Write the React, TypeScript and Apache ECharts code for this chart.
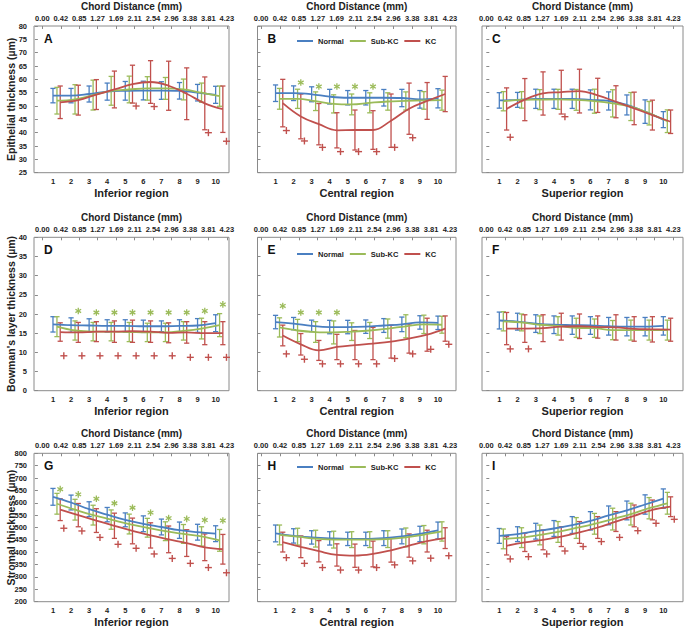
import React, { useEffect, useRef } from "react";
import * as echarts from "echarts";

// ---------- data ----------
const categories = [1, 2, 3, 4, 5, 6, 7, 8, 9, 10];
const chordDistance = ["0.00", "0.42", "0.85", "1.27", "1.69", "2.11", "2.54", "2.96", "3.38", "3.81", "4.23"];
const chordIndex = [0, 1, 2, 3, 4, 5, 6, 7, 8, 9, 10];
const groupNames = ["Normal", "Sub-KC", "KC"];
const regionNames = ["Inferior region", "Central region", "Superior region"];
const layerNames = ["Epithelial thickness (µm)", "Bowman's layer thickness (µm)", "Stromal thickness (µm)"];
const panelLetters = ["A", "B", "C", "D", "E", "F", "G", "H", "I"];

// A: epithelium, inferior
const epiInfNormalMean = [53.9, 53.9, 54.5, 55.4, 55.7, 55.8, 55.8, 55.7, 55.0, 54.2];
const epiInfNormalSd = [2.7, 2.7, 3.0, 3.2, 3.5, 3.5, 3.3, 3.1, 3.1, 3.2];
const epiInfSubMean = [52.0, 52.5, 54.1, 55.7, 56.2, 56.6, 56.6, 56.2, 55.0, 53.7];
const epiInfSubSd = [5.0, 5.5, 5.6, 5.4, 5.0, 4.4, 4.1, 3.9, 3.6, 3.8];
const epiInfKcMean = [51.4, 52.2, 54.3, 56.2, 58.2, 59.0, 57.6, 54.6, 51.0, 48.8];
const epiInfKcSd = [6.1, 5.6, 5.6, 6.9, 7.1, 8.0, 9.2, 9.7, 9.9, 8.7];
const epiInfKcSigCats = [5, 6, 9, 10];
const epiInfKcSigY = [50.0, 49.8, 40.0, 36.8];

// B: epithelium, central
const epiCenNormalMean = [54.8, 54.8, 54.4, 53.5, 53.1, 53.1, 53.1, 53.0, 52.5, 52.9];
const epiCenNormalSd = [3.1, 2.75, 2.8, 2.75, 2.7, 2.7, 3.1, 3.25, 3.3, 3.6];
const epiCenSubMean = [52.7, 52.7, 51.8, 50.8, 50.6, 51.2, 51.7, 51.9, 52.1, 52.2];
const epiCenSubSd = [3.9, 3.6, 3.5, 3.4, 3.9, 3.75, 3.25, 3.4, 3.3, 3.75];
const epiCenKcMean = [51.1, 46.1, 43.2, 40.9, 41.0, 41.0, 44.5, 49.0, 51.9, 54.5];
const epiCenKcSd = [8.9, 8.4, 7.75, 6.6, 7.5, 7.25, 10.0, 9.6, 6.9, 6.6];
const epiCenKcSigCats = [1, 2, 3, 4, 5, 6, 7, 8];
const epiCenKcSigY = [40.8, 36.9, 34.5, 32.9, 32.9, 32.9, 34.5, 38.1];
const epiCenSubSigCats = [2, 3, 4, 5, 6];
const epiCenSubSigY = [58.8, 57.3, 57.3, 57.3, 57.3];

// C: epithelium, superior
const epiSupNormalMean = [52.1, 52.3, 52.7, 52.7, 52.7, 52.3, 51.9, 50.4, 47.9, 44.9];
const epiSupNormalSd = [2.9, 2.8, 3.6, 3.6, 3.6, 3.75, 3.4, 3.75, 4.4, 3.0];
const epiSupSubMean = [51.8, 52.3, 52.4, 52.5, 52.3, 51.8, 51.0, 49.8, 47.3, 44.3];
const epiSupSubSd = [3.6, 3.1, 3.75, 3.75, 3.9, 4.5, 5.1, 5.25, 4.4, 4.25];
const epiSupKcMean = [48.9, 52.4, 54.7, 55.2, 55.6, 54.0, 51.6, 49.1, 46.6, 44.1];
const epiSupKcSd = [7.9, 7.9, 8.1, 8.2, 8.2, 6.4, 6.0, 6.1, 5.6, 4.4];
const epiSupKcSigCats = [1, 4];
const epiSupKcSigY = [38.3, 46.0];

// D: Bowman's layer, inferior
const bowInfNormalMean = [17.3, 17.1, 17.0, 16.9, 16.9, 16.8, 16.8, 16.9, 17.0, 17.6];
const bowInfNormalSd = [2.0, 1.9, 1.75, 1.6, 1.6, 1.6, 1.4, 1.6, 1.8, 2.2];
const bowInfSubMean = [16.7, 15.7, 15.4, 15.4, 15.3, 15.2, 15.2, 15.6, 16.2, 17.1];
const bowInfSubSd = [2.6, 2.5, 2.4, 2.4, 2.5, 2.4, 2.4, 2.4, 2.7, 3.0];
const bowInfKcMean = [15.3, 15.2, 15.4, 15.4, 15.5, 15.4, 15.1, 15.2, 15.0, 15.0];
const bowInfKcSd = [2.4, 2.6, 2.6, 2.8, 2.9, 2.8, 2.6, 2.8, 3.0, 3.0];
const bowInfKcSigCats = [1, 2, 3, 4, 5, 6, 7, 8, 9, 10];
const bowInfKcSigY = [9.1, 9.1, 9.1, 9.1, 9.1, 9.1, 9.1, 8.7, 8.7, 8.7];
const bowInfSubSigCats = [2, 3, 4, 5, 6, 7, 8, 9, 10];
const bowInfSubSigY = [20.8, 20.4, 20.4, 20.4, 20.4, 20.4, 20.4, 20.8, 22.5];

// E: Bowman's layer, central
const bowCenNormalMean = [17.9, 17.5, 16.9, 16.6, 16.6, 16.7, 17.0, 17.3, 17.8, 17.7];
const bowCenNormalSd = [1.75, 1.6, 1.5, 1.75, 1.75, 1.75, 1.8, 1.9, 1.75, 1.75];
const bowCenSubMean = [16.5, 15.7, 15.3, 15.2, 15.4, 15.7, 16.2, 16.8, 17.3, 17.2];
const bowCenSubSd = [2.5, 2.9, 2.7, 3.0, 2.3, 2.1, 2.5, 3.0, 2.4, 2.2];
const bowCenKcMean = [14.4, 12.1, 10.5, 11.4, 11.9, 12.3, 12.8, 13.6, 14.6, 16.2];
const bowCenKcSd = [2.7, 2.8, 2.6, 3.3, 3.8, 4.2, 4.3, 3.8, 4.3, 3.3];
const bowCenKcSigCats = [1, 2, 3, 4, 5, 6, 7, 8, 9, 10];
const bowCenKcSigY = [9.6, 8.2, 7.0, 7.0, 7.0, 7.0, 8.4, 9.6, 10.8, 12.1];
const bowCenSubSigCats = [1, 2, 3, 4];
const bowCenSubSigY = [22.1, 20.4, 20.4, 20.4];

// F: Bowman's layer, superior
const bowSupNormalMean = [18.3, 18.0, 17.5, 17.2, 17.1, 17.0, 16.8, 16.7, 16.7, 16.9];
const bowSupNormalSd = [2.2, 2.2, 2.3, 2.3, 2.4, 2.3, 2.3, 2.4, 2.4, 2.4];
const bowSupSubMean = [18.1, 17.8, 17.2, 16.9, 16.4, 16.3, 15.8, 15.8, 15.8, 15.8];
const bowSupSubSd = [2.5, 2.2, 2.3, 2.4, 2.5, 2.4, 2.5, 2.6, 2.6, 2.6];
const bowSupKcMean = [16.2, 16.2, 16.3, 16.7, 16.8, 16.6, 16.5, 16.1, 16.0, 15.9];
const bowSupKcSd = [4.2, 3.6, 3.5, 3.5, 3.2, 2.9, 3.3, 3.2, 3.3, 3.0];
const bowSupKcSigCats = [1, 2];
const bowSupKcSigY = [10.9, 10.9];

// G: stroma, inferior
const strInfNormalMean = [624, 601, 574, 552, 531, 515, 502, 489, 481, 475];
const strInfNormalSd = [34, 30, 30, 29, 28, 32, 32, 33, 32, 32];
const strInfSubMean = [596, 572, 550, 532, 514, 499, 485, 474, 464, 448];
const strInfSubSd = [42, 42, 40, 39, 40, 38, 38, 38, 39, 44];
const strInfKcMean = [572, 550, 528, 507, 486, 468, 452, 437, 420, 412];
const strInfKcSd = [44, 47, 48, 51, 52, 51, 54, 54, 54, 60];
const strInfKcSigCats = [1, 2, 3, 4, 5, 6, 7, 8, 9, 10];
const strInfKcSigY = [497, 486, 460, 432, 416, 393, 375, 355, 338, 317];
const strInfSubSigCats = [1, 2, 3, 4, 5, 6, 7, 8, 9, 10];
const strInfSubSigY = [655, 634, 616, 598, 580, 560, 538, 535, 530, 528];

// H: stroma, central
const strCenNormalMean = [476, 466, 460, 456, 454, 454, 457, 464, 474, 488];
const strCenNormalSd = [34, 29, 27, 27, 27, 27, 30, 30, 31, 34];
const strCenSubMean = [470, 463, 455, 451, 451, 451, 453, 460, 471, 484];
const strCenSubSd = [40, 34, 34, 34, 32, 32, 34, 38, 37, 39];
const strCenKcMean = [441, 422, 404, 389, 386, 393, 408, 427, 445, 457];
const strCenKcSd = [40, 44, 43, 45, 47, 52, 48, 47, 44, 42];
const strCenKcSigCats = [1, 2, 3, 4, 5, 6, 7, 8, 9, 10];
const strCenKcSigY = [378, 355, 338, 328, 328, 338, 349, 365, 376, 386];

// I: stroma, superior
const strSupNormalMean = [466, 473, 485, 496, 510, 527, 549, 569, 593, 617];
const strSupNormalSd = [30, 30, 32, 32, 34, 37, 38, 38, 39, 39];
const strSupSubMean = [454, 459, 470, 482, 498, 515, 534, 554, 578, 598];
const strSupSubSd = [40, 40, 40, 42, 42, 42, 44, 44, 43, 44];
const strSupKcMean = [426, 440, 450, 463, 480, 500, 524, 547, 571, 584];
const strSupKcSd = [37, 37, 40, 40, 44, 44, 40, 44, 40, 40];
const strSupKcSigCats = [1, 2, 3, 4, 5, 6, 7, 8, 9, 10];
const strSupKcSigY = [373, 382, 393, 405, 423, 443, 460, 487, 517, 533];

// ---------- assembly ----------
const panels = [
  { groups: [[epiInfNormalMean, epiInfNormalSd], [epiInfSubMean, epiInfSubSd], [epiInfKcMean, epiInfKcSd]], plus: [epiInfKcSigCats, epiInfKcSigY], star: null },
  { groups: [[epiCenNormalMean, epiCenNormalSd], [epiCenSubMean, epiCenSubSd], [epiCenKcMean, epiCenKcSd]], plus: [epiCenKcSigCats, epiCenKcSigY], star: [epiCenSubSigCats, epiCenSubSigY] },
  { groups: [[epiSupNormalMean, epiSupNormalSd], [epiSupSubMean, epiSupSubSd], [epiSupKcMean, epiSupKcSd]], plus: [epiSupKcSigCats, epiSupKcSigY], star: null },
  { groups: [[bowInfNormalMean, bowInfNormalSd], [bowInfSubMean, bowInfSubSd], [bowInfKcMean, bowInfKcSd]], plus: [bowInfKcSigCats, bowInfKcSigY], star: [bowInfSubSigCats, bowInfSubSigY] },
  { groups: [[bowCenNormalMean, bowCenNormalSd], [bowCenSubMean, bowCenSubSd], [bowCenKcMean, bowCenKcSd]], plus: [bowCenKcSigCats, bowCenKcSigY], star: [bowCenSubSigCats, bowCenSubSigY] },
  { groups: [[bowSupNormalMean, bowSupNormalSd], [bowSupSubMean, bowSupSubSd], [bowSupKcMean, bowSupKcSd]], plus: [bowSupKcSigCats, bowSupKcSigY], star: null },
  { groups: [[strInfNormalMean, strInfNormalSd], [strInfSubMean, strInfSubSd], [strInfKcMean, strInfKcSd]], plus: [strInfKcSigCats, strInfKcSigY], star: [strInfSubSigCats, strInfSubSigY] },
  { groups: [[strCenNormalMean, strCenNormalSd], [strCenSubMean, strCenSubSd], [strCenKcMean, strCenKcSd]], plus: [strCenKcSigCats, strCenKcSigY], star: null },
  { groups: [[strSupNormalMean, strSupNormalSd], [strSupSubMean, strSupSubSd], [strSupKcMean, strSupKcSd]], plus: [strSupKcSigCats, strSupKcSigY], star: null },
];

const FONT = "'Liberation Sans', Arial, Helvetica, sans-serif";
const COLORS = ["#4a7fc1", "#9bbb59", "#c0504d"];
const OFFSETS = [0, 0.22, 0.4];
const PLUS_OFFSET = 0.6;
const STAR_OFFSET = 0.4;
const TEXT = "#222";
const FRAME = "#8a8a8a";

const cols = [
  { left: 34, width: 195, min: -0.05, max: 10.74, topMin: -0.45, topMax: 10.12 },
  { left: 257.5, width: 198.5, min: 0, max: 11, topMin: -0.19, topMax: 10.32 },
  { left: 482, width: 201, min: 0.05, max: 11.08, topMin: -0.23, topMax: 10.52 },
];
const rows = [
  { top: 26, height: 146.7, min: 25, max: 80, interval: 5, legendTop: 37 },
  { top: 237.3, height: 153.4, min: 0, max: 40, interval: 5, legendTop: 250 },
  { top: 453.3, height: 148.4, min: 200, max: 800, interval: 50, legendTop: 463 },
];

function errRenderer(color: string) {
  return (params: any, api: any) => {
    const x = api.value(0);
    const m = api.value(1);
    const s = api.value(2);
    const top = api.coord([x, m + s]);
    const bot = api.coord([x, m - s]);
    const w = 2.6;
    const style = { stroke: color, lineWidth: 1.3 };
    return {
      type: "group",
      children: [
        { type: "line", shape: { x1: top[0], y1: top[1], x2: bot[0], y2: bot[1] }, style },
        { type: "line", shape: { x1: top[0] - w, y1: top[1], x2: top[0] + w, y2: top[1] }, style },
        { type: "line", shape: { x1: bot[0] - w, y1: bot[1], x2: bot[0] + w, y2: bot[1] }, style },
      ],
    };
  };
}

function markRenderer(color: string, kind: "plus" | "star") {
  return (params: any, api: any) => {
    const p = api.coord([api.value(0), api.value(1)]);
    const style = { stroke: color, lineWidth: kind === "plus" ? 1.4 : 1.3 };
    const angles = kind === "plus" ? [0, 90] : [90, 30, 150];
    const r = kind === "plus" ? 3.5 : 3.3;
    return {
      type: "group",
      children: angles.map((a) => {
        const rad = (a * Math.PI) / 180;
        const dx = Math.cos(rad) * r;
        const dy = Math.sin(rad) * r;
        return { type: "line", shape: { x1: p[0] - dx, y1: p[1] - dy, x2: p[0] + dx, y2: p[1] + dy }, style };
      }),
    };
  };
}

function buildOption() {
  const grid: any[] = [];
  const xAxis: any[] = [];
  const yAxis: any[] = [];
  const series: any[] = [];
  const legend: any[] = [];
  const graphic: any[] = [];
  const labelStyle = { fontSize: 7.5, fontWeight: "bold", color: TEXT, fontFamily: FONT };

  panels.forEach((pn, p) => {
    const r = Math.floor(p / 3);
    const c = p % 3;
    const col = cols[c];
    const row = rows[r];
    grid.push({
      left: col.left,
      top: row.top,
      width: col.width,
      height: row.height,
      show: true,
      borderColor: FRAME,
      borderWidth: 1,
      backgroundColor: "transparent",
      containLabel: false,
      outerBoundsMode: "none",
    });
    xAxis.push({
      gridIndex: p,
      type: "value",
      position: "bottom",
      min: col.min,
      max: col.max,
      axisLine: { show: false },
      axisTick: { show: false },
      splitLine: { show: false },
      axisLabel: { ...labelStyle, customValues: categories, margin: 5 },
      name: regionNames[c],
      nameLocation: "middle",
      nameGap: 15,
      nameMoveOverlap: false,
      nameTextStyle: { fontSize: 11, fontWeight: "bold", color: TEXT, fontFamily: FONT },
    });
    xAxis.push({
      gridIndex: p,
      type: "value",
      position: "top",
      min: col.topMin,
      max: col.topMax,
      axisLine: { show: false },
      axisTick: { show: true, inside: true, length: 3, customValues: chordIndex, lineStyle: { color: FRAME } },
      splitLine: { show: false },
      axisLabel: {
        ...labelStyle,
        customValues: chordIndex,
        margin: 4,
        formatter: (v: number) => chordDistance[Math.round(v)] ?? "",
      },
      name: "Chord Distance (mm)",
      nameLocation: "middle",
      nameGap: 15,
      nameMoveOverlap: false,
      nameTextStyle: { fontSize: 10, fontWeight: "bold", color: TEXT, fontFamily: FONT },
    });
    yAxis.push({
      gridIndex: p,
      type: "value",
      min: row.min,
      max: row.max,
      interval: row.interval,
      axisLine: { show: false },
      axisTick: { show: true, inside: true, length: 3, lineStyle: { color: FRAME } },
      splitLine: { show: false },
      axisLabel: { ...labelStyle, show: c === 0, margin: 7 },
      name: c === 0 ? layerNames[r] : "",
      nameLocation: "middle",
      nameGap: 18,
      nameMoveOverlap: false,
      nameTextStyle: { fontSize: 10.5, fontWeight: "bold", color: TEXT, fontFamily: FONT },
    });

    pn.groups.forEach((grp: any, g: number) => {
      const mean = grp[0] as number[];
      const sd = grp[1] as number[];
      series.push({
        type: "custom",
        name: groupNames[g] + " SD",
        xAxisIndex: 2 * p,
        yAxisIndex: p,
        data: categories.map((cat, i) => [cat + OFFSETS[g], mean[i], sd[i]]),
        encode: { x: 0, y: 1 },
        renderItem: errRenderer(COLORS[g]),
        silent: true,
        clip: false,
        z: 2,
      });
      series.push({
        type: "line",
        name: groupNames[g],
        xAxisIndex: 2 * p,
        yAxisIndex: p,
        data: categories.map((cat, i) => [cat + OFFSETS[g], mean[i]]),
        smooth: 0.4,
        symbol: "none",
        showSymbol: false,
        lineStyle: { color: COLORS[g], width: 1.8 },
        itemStyle: { color: COLORS[g] },
        silent: true,
        z: 3,
      });
    });

    if (pn.plus) {
      const [cats, ys] = pn.plus as any;
      series.push({
        type: "custom",
        name: "KC significance",
        xAxisIndex: 2 * p,
        yAxisIndex: p,
        data: cats.map((cat: number, i: number) => [cat + PLUS_OFFSET, ys[i]]),
        encode: { x: 0, y: 1 },
        renderItem: markRenderer(COLORS[2], "plus"),
        silent: true,
        clip: false,
        z: 4,
      });
    }
    if (pn.star) {
      const [cats, ys] = pn.star as any;
      series.push({
        type: "custom",
        name: "Sub-KC significance",
        xAxisIndex: 2 * p,
        yAxisIndex: p,
        data: cats.map((cat: number, i: number) => [cat + STAR_OFFSET, ys[i]]),
        encode: { x: 0, y: 1 },
        renderItem: markRenderer(COLORS[1], "star"),
        silent: true,
        clip: false,
        z: 4,
      });
    }

    graphic.push({
      type: "text",
      left: col.left + 10,
      top: row.top + 7,
      style: { text: panelLetters[p], fill: "#111", fontSize: 12, fontWeight: "bold", fontFamily: FONT },
    });

    if (c === 1) {
      legend.push({
        data: groupNames,
        left: 297,
        top: row.legendTop,
        orient: "horizontal",
        icon: "rect",
        itemWidth: 16,
        itemHeight: 2,
        itemGap: 6,
        padding: 0,
        selectedMode: false,
        textStyle: { fontSize: 7.5, fontWeight: "bold", color: TEXT, fontFamily: FONT },
      });
    }
  });

  return {
    animation: false,
    backgroundColor: "#fff",
    textStyle: { fontFamily: FONT },
    grid,
    xAxis,
    yAxis,
    series,
    legend,
    graphic,
  };
}

export default function App() {
  const ref = useRef<HTMLDivElement>(null);
  useEffect(() => {
    const chart = echarts.init(ref.current as HTMLDivElement, undefined, { renderer: "svg" });
    chart.setOption(buildOption() as any);
    return () => {
      chart.dispose();
    };
  }, []);
  return (
    <div
      ref={ref}
      style={{ position: "fixed", left: 0, top: 0, width: 685, height: 630, background: "#fff" }}
    />
  );
}
